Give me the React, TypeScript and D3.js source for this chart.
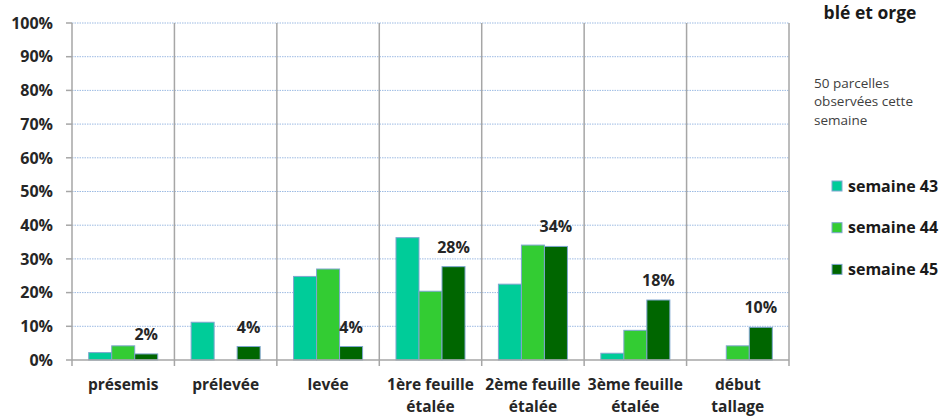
import React from "react";
import * as d3 from "d3";

const categories = [
  ["présemis"],
  ["prélevée"],
  ["levée"],
  ["1ère feuille", "étalée"],
  ["2ème feuille", "étalée"],
  ["3ème feuille", "étalée"],
  ["début", "tallage"],
];
const seriesNames = ["semaine 43", "semaine 44", "semaine 45"];
const sem43 = [0.022, 0.112, 0.248, 0.363, 0.225, 0.02, 0];
const sem44 = [0.042, 0, 0.27, 0.204, 0.341, 0.088, 0.042];
const sem45 = [0.018, 0.04, 0.04, 0.277, 0.337, 0.178, 0.097];
const labels45 = ["2%", "4%", "4%", "28%", "34%", "18%", "10%"];
const yTicks = [0, 0.1, 0.2, 0.3, 0.4, 0.5, 0.6, 0.7, 0.8, 0.9, 1];
const colors = ["#00cc99", "#33cc33", "#006600"];
const noteLines = ["50 parcelles", "observées cette", "semaine"];
const titleText = "blé et orge";

const FONT = "'Open Sans', 'DejaVu Sans', sans-serif";

export default function App() {
  const W = 939, H = 417;
  const left = 72, right = 789, top = 23, bottom = 360;
  const series = [sem43, sem44, sem45];
  const idx = categories.map((_, i) => String(i));
  const x0 = d3.scaleBand<string>().domain(idx).range([left, right]).padding(0);
  const x1 = d3
    .scaleBand<string>()
    .domain(seriesNames)
    .range([0, x0.bandwidth()])
    .paddingInner(0)
    .paddingOuter(0.726);
  const y = d3.scaleLinear().domain([0, 1]).range([bottom, top]);
  const fmt = d3.format(".0%");

  const dividers = idx.map((d) => x0(d)!).concat([right]);

  return (
    <svg
      width={W}
      height={H}
      style={{ position: "absolute", left: 0, top: 0, background: "#fff" }}
      fontFamily={FONT}
    >
      {yTicks.slice(1).map((t) => (
        <line
          key={"g" + t}
          x1={left}
          x2={right}
          y1={y(t)}
          y2={y(t)}
          stroke="#9dbbe3"
          strokeWidth={1}
          strokeDasharray="1.5,1"
        />
      ))}
      {dividers.map((xv, i) => (
        <line
          key={"d" + i}
          x1={xv}
          x2={xv}
          y1={top}
          y2={bottom + 6}
          stroke="#a6a6a6"
          strokeWidth={1.5}
        />
      ))}
      {yTicks.map((t) => (
        <line
          key={"t" + t}
          x1={left - 6}
          x2={left}
          y1={y(t)}
          y2={y(t)}
          stroke="#a6a6a6"
          strokeWidth={1.5}
        />
      ))}
      {idx.map((c, ci) =>
        seriesNames.map((s, si) => {
          const v = series[si][ci];
          if (!v) return null;
          return (
            <rect
              key={c + s}
              x={x0(c)! + x1(s)!}
              y={y(v)}
              width={x1.bandwidth()}
              height={bottom - y(v)}
              fill={colors[si]}
              stroke="#7ea6cf"
              strokeWidth={1}
            />
          );
        })
      )}
      <line x1={left} x2={right} y1={bottom} y2={bottom} stroke="#a6a6a6" strokeWidth={1.5} />
      {yTicks.map((t) => (
        <text
          key={"l" + t}
          x={53}
          y={y(t)}
          dy="0.36em"
          textAnchor="end"
          fontSize={16}
          fontWeight="bold"
          fill="#262626"
        >
          {fmt(t)}
        </text>
      ))}
      {idx.map((c, ci) => (
        <text
          key={"dl" + c}
          x={x0(c)! + x1(seriesNames[2])! + x1.bandwidth() / 2}
          y={y(sem45[ci]) - 14}
          textAnchor="middle"
          fontSize={16}
          fontWeight="bold"
          fill="#262626"
        >
          {labels45[ci]}
        </text>
      ))}
      {idx.map((c, ci) => (
        <text
          key={"cl" + c}
          textAnchor="middle"
          fontSize={15.5}
          fontWeight="bold"
          fill="#262626"
        >
          {categories[ci].map((ln, li) => (
            <tspan key={li} x={x0(c)! + x0.bandwidth() / 2} y={390 + li * 22}>
              {ln}
            </tspan>
          ))}
        </text>
      ))}
      <text x={870} y={19} textAnchor="middle" fontSize={17.5} fontWeight="bold" fill="#1a1a1a">
        {titleText}
      </text>
      {noteLines.map((ln, i) => (
        <text key={"n" + i} x={814} y={87.5 + i * 18.7} fontSize={13.5} fill="#404040">
          {ln}
        </text>
      ))}
      {seriesNames.map((s, i) => (
        <g key={"lg" + s} transform={`translate(832, ${186 + i * 41.7})`}>
          <rect x={0} y={-5} width={10} height={10} fill={colors[i]} stroke="#7ea6cf" strokeWidth={1} />
          <text x={16} y={0} dy="0.36em" fontSize={16} fontWeight="bold" fill="#1a1a1a">
            {s}
          </text>
        </g>
      ))}
    </svg>
  );
}
